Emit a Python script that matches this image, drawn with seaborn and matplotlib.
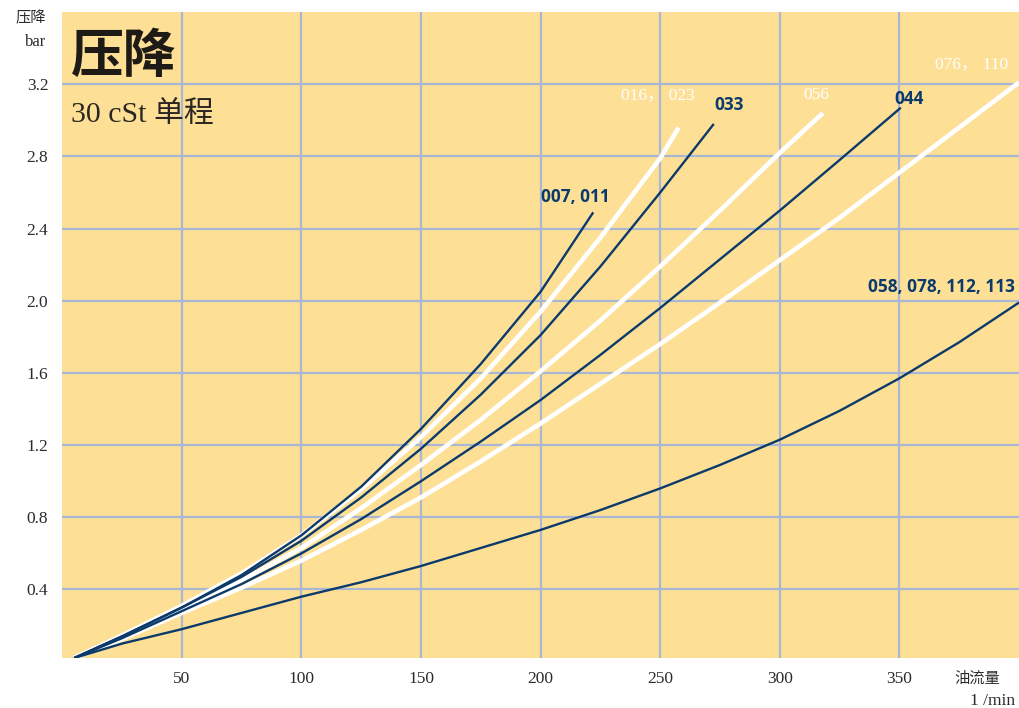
import matplotlib
matplotlib.use("Agg")
import matplotlib.pyplot as plt
import seaborn as sns
import pandas as pd

# Flow (l/min) and pressure drop (bar) for each filter size group, 30 cSt single pass
flow_007 = [5, 25, 50, 75, 100, 125, 150, 175, 200, 222]
dp_007 = [0.02, 0.14, 0.30, 0.48, 0.70, 0.97, 1.29, 1.65, 2.05, 2.49]

flow_016 = [5, 25, 50, 75, 100, 125, 150, 175, 200, 225, 250, 257.7]
dp_016 = [0.02, 0.145, 0.31, 0.49, 0.70, 0.955, 1.245, 1.57, 1.94, 2.35, 2.79, 2.96]

flow_033 = [5, 25, 50, 75, 100, 125, 150, 175, 200, 225, 250, 272.4]
dp_033 = [0.02, 0.14, 0.30, 0.47, 0.67, 0.91, 1.18, 1.48, 1.81, 2.19, 2.60, 2.98]

flow_056 = [5, 25, 50, 75, 100, 125, 150, 175, 200, 225, 250, 275, 300, 318]
dp_056 = [0.02, 0.14, 0.29, 0.45, 0.63, 0.85, 1.09, 1.34, 1.61, 1.89, 2.19,
          2.50, 2.82, 3.04]

flow_044 = [5, 25, 50, 75, 100, 125, 150, 175, 200, 225, 250, 275, 300, 325, 350.6]
dp_044 = [0.02, 0.13, 0.28, 0.43, 0.60, 0.79, 1.00, 1.22, 1.45, 1.70, 1.96,
          2.23, 2.50, 2.78, 3.07]

flow_076 = [5, 25, 50, 75, 100, 125, 150, 175, 200, 225, 250, 275, 300, 325,
            350, 375, 400]
dp_076 = [0.02, 0.125, 0.27, 0.41, 0.56, 0.73, 0.91, 1.11, 1.32, 1.54, 1.76,
          1.99, 2.225, 2.46, 2.71, 2.96, 3.21]

flow_058 = [5, 25, 50, 75, 100, 125, 150, 175, 200, 225, 250, 275, 300, 325,
            350, 375, 400]
dp_058 = [0.02, 0.10, 0.18, 0.27, 0.36, 0.44, 0.53, 0.63, 0.73, 0.84, 0.96,
          1.09, 1.23, 1.39, 1.57, 1.77, 1.99]

x_ticks = [50, 100, 150, 200, 250, 300, 350]
y_ticks = [0.4, 0.8, 1.2, 1.6, 2.0, 2.4, 2.8, 3.2]

NAVY = "#0B3A6B"
WHITE = "#FFFFFF"
BG = "#FDE096"
GRID = "#A9B6D4"
TEXT = "#2B2B2B"

series = [
    ("016, 023", flow_016, dp_016, WHITE),
    ("056", flow_056, dp_056, WHITE),
    ("076, 110", flow_076, dp_076, WHITE),
    ("007, 011", flow_007, dp_007, NAVY),
    ("033", flow_033, dp_033, NAVY),
    ("044", flow_044, dp_044, NAVY),
    ("058, 078, 112, 113", flow_058, dp_058, NAVY),
]

frames = []
for name, xs, ys, _ in series:
    frames.append(pd.DataFrame({"flow": xs, "dp": ys, "size": name}))
df = pd.concat(frames, ignore_index=True)

sns.set_theme(style="white")
plt.rcParams["font.family"] = ["Liberation Serif", "Noto Sans CJK SC"]

fig = plt.figure(figsize=(10.19, 7.08), dpi=100)
ax = fig.add_axes([0.0611, 0.0706, 0.9389, 0.9124])
ax.set_facecolor(BG)

for name, _, _, color in series:
    lw = 3.3 if color == WHITE else 1.7
    sns.lineplot(data=df[df["size"] == name], x="flow", y="dp", color=color,
                 linewidth=lw, ax=ax, sort=False, estimator=None,
                 solid_capstyle="butt", solid_joinstyle="round")

ax.set_xlim(0, 400)
ax.set_ylim(0.02, 3.6)
ax.set_xticks(x_ticks)
ax.set_yticks(y_ticks)
ax.set_xticklabels([str(v) for v in x_ticks])
ax.set_yticklabels([f"{v:.1f}" for v in y_ticks])
ax.grid(True, color=GRID, linewidth=1.6)
ax.set_axisbelow(True)
for s in ax.spines.values():
    s.set_visible(False)
ax.tick_params(axis="x", length=4, width=1.6, color=GRID, direction="out",
               pad=5, labelsize=12.5, labelcolor=TEXT)
ax.tick_params(axis="y", length=0, pad=10, labelsize=12.5, labelcolor=TEXT)
ax.set_xlabel("")
ax.set_ylabel("")

# Curve labels
navy_font = dict(family=["Open Sans", "DejaVu Sans"], fontweight="bold",
                 fontsize=12.4, color=NAVY)
white_font = dict(family=["Liberation Serif", "Noto Sans CJK SC"],
                  fontsize=12.5, color=WHITE)
ax.text(200, 2.575, "007, 011", ha="left", va="center", **navy_font)
ax.text(272.8, 3.085, "033", ha="left", va="center", **navy_font)
ax.text(348, 3.12, "044", ha="left", va="center", **navy_font)
ax.text(337, 2.075, "058, 078, 112, 113", ha="left", va="center", **navy_font)
ax.text(233.8, 3.14, "016， 023", ha="left", va="center", **white_font)
ax.text(310, 3.14, "056", ha="left", va="center", **white_font)
ax.text(364.9, 3.31, "076， 110", ha="left", va="center", **white_font)

# Title block inside the plot
ax.text(0.009, 0.931, "压降", transform=ax.transAxes, ha="left", va="center",
        fontsize=38, color="#1E1A16",
        family=["Noto Sans CJK SC"], fontweight="bold")
ax.text(0.009, 0.841, "30 cSt 单程", transform=ax.transAxes, ha="left",
        va="center", fontsize=21.5, color="#2B2622",
        family=["Liberation Serif", "Noto Sans CJK SC"])

# Axis titles at the corners
fig.text(46 / 1019, 1 - 18 / 708, "压降", ha="right", va="center",
         fontsize=11, color=TEXT, family=["Noto Sans CJK SC"])
fig.text(46 / 1019, 1 - 42 / 708, "bar", ha="right", va="center",
         fontsize=12, color=TEXT, family=["Liberation Serif"])
fig.text(1000 / 1019, 1 - 678 / 708, "油流量", ha="right", va="center",
         fontsize=11, color=TEXT, family=["Noto Sans CJK SC"])
fig.text(1015 / 1019, 1 - 701 / 708, "1 /min", ha="right", va="center",
         fontsize=12.5, color=TEXT, family=["Liberation Serif"])

fig.savefig("out.png", dpi=100, facecolor="white")
